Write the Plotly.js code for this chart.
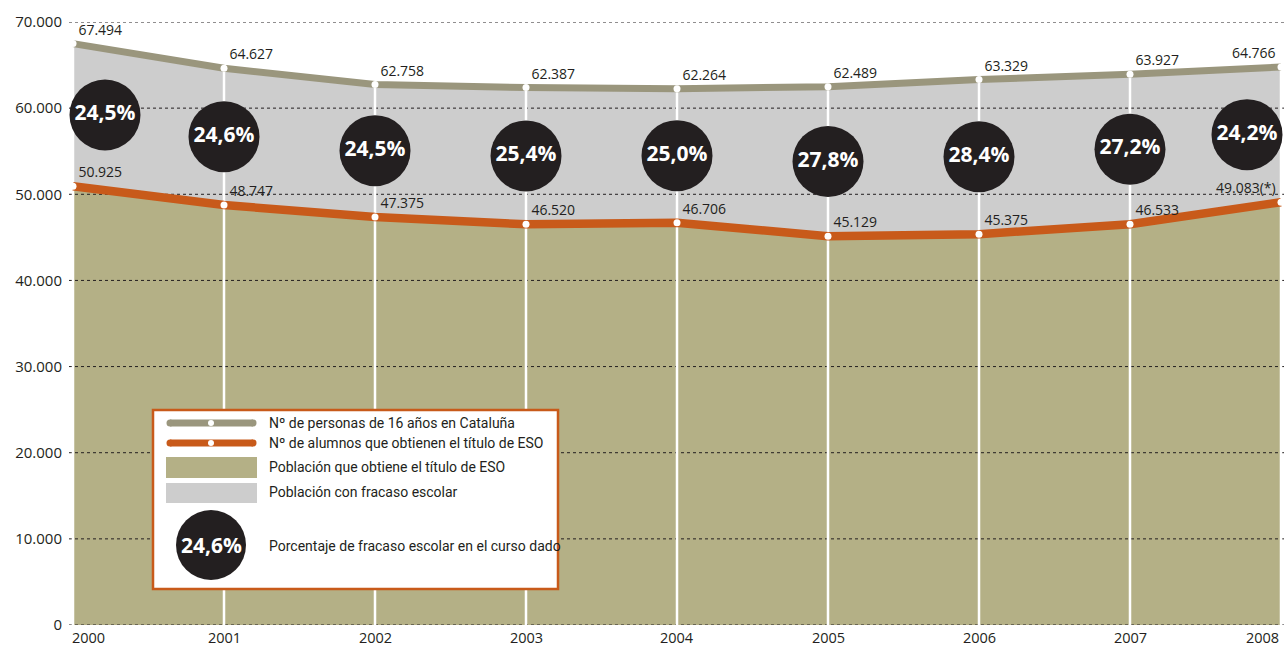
<!DOCTYPE html>
<html>
<head>
<meta charset="utf-8">
<script src="https://cdn.plot.ly/plotly-3.0.1.min.js"></script>
<style>html,body{margin:0;padding:0;background:#fff;}#chart{width:1284px;height:646px;}</style>
</head>
<body>
<div id="chart"></div>
<script>
// ---- data ----
const years = [2000, 2001, 2002, 2003, 2004, 2005, 2006, 2007, 2008];
const population16 = [67494, 64627, 62758, 62387, 62264, 62489, 63329, 63927, 64766];
const esoGraduates = [50925, 48747, 47375, 46520, 46706, 45129, 45375, 46533, 49083];
const esoNotes = ['', '', '', '', '', '', '', '', '(*)'];
const failureRate = [24.5, 24.6, 24.5, 25.4, 25.0, 27.8, 28.4, 27.2, 24.2];
const yTicks = [0, 10000, 20000, 30000, 40000, 50000, 60000, 70000];
const legendLabels = [
  'Nº de personas de 16 años en Cataluña',
  'Nº de alumnos que obtienen el título de ESO',
  'Población que obtiene el título de ESO',
  'Población con fracaso escolar',
  'Porcentaje de fracaso escolar en el curso dado'
];
const legendSampleRate = 24.6;

// ---- styles ----
const C_GRAY_LINE = '#9a967d';
const C_ORANGE = '#c85a1a';
const C_OLIVE = '#b4b086';
const C_GRAYFILL = '#cdcdcd';
const C_DARK = '#231f20';
const FONT = 'Open Sans, Noto Sans, sans-serif';
const LEGFONT = 'Roboto, Noto Sans, sans-serif';

const W = 1284, H = 646;
const M = {l: 69, r: 0, t: 22, b: 21};
const PW = W - M.l - M.r, PH = H - M.t - M.b;
const step = (1281 - 73) / 8;
const xRange = [years[0] - 4 / step, years[years.length - 1] + 3 / step];

function fmt(n) {
  return String(n).replace(/\B(?=(\d{3})+(?!\d))/g, '.');
}
function pct(v) { return v.toFixed(1).replace('.', ',') + '%'; }
const PX = x => (x - M.l) / PW;
const PY = y => (H - M.b - y) / PH;

const last = years.length - 1;

// fills
const traces = [];
traces.push({x: years, y: esoGraduates, type: 'scatter', mode: 'lines', fill: 'tozeroy',
  fillcolor: C_OLIVE, line: {width: 0, color: C_OLIVE}, hoverinfo: 'skip'});
traces.push({x: years, y: population16, type: 'scatter', mode: 'lines', fill: 'tonexty',
  fillcolor: C_GRAYFILL, line: {width: 0, color: C_GRAYFILL}, hoverinfo: 'skip'});

// dotted gridlines
const gx = [], gy = [];
yTicks.forEach(t => { gx.push(xRange[0], xRange[1], null); gy.push(t, t, null); });
traces.push({x: gx, y: gy, type: 'scatter', mode: 'lines', cliponaxis: false,
  line: {width: 1, color: C_DARK, dash: 'dot'}, hoverinfo: 'skip'});

// white vertical lines
const vx = [], vy = [];
years.forEach((yr, i) => { vx.push(yr, yr, null); vy.push(0, population16[i], null); });
traces.push({x: vx, y: vy, type: 'scatter', mode: 'lines', cliponaxis: false,
  line: {width: 2.5, color: '#ffffff'}, hoverinfo: 'skip'});

// lines with labels
const posArr = years.map((_, i) => i === last ? 'top left' : 'top right');
traces.push({x: years, y: population16, type: 'scatter', mode: 'lines+markers+text', cliponaxis: false,
  line: {width: 7, color: C_GRAY_LINE}, marker: {size: 7, color: '#ffffff'},
  text: population16.map(fmt), textposition: posArr,
  textfont: {family: FONT, size: 14, color: C_DARK}, hoverinfo: 'skip'});
traces.push({x: years, y: esoGraduates, type: 'scatter', mode: 'lines+markers+text', cliponaxis: false,
  line: {width: 8.5, color: C_ORANGE}, marker: {size: 7, color: '#ffffff'},
  text: esoGraduates.map((v, i) => fmt(v) + esoNotes[i]), textposition: posArr,
  textfont: {family: FONT, size: 14, color: C_DARK}, hoverinfo: 'skip'});

// bubbles
const bx = years.map((yr, i) => i === 0 ? yr + 32 / step : (i === last ? yr - 34 / step : yr));
const by = years.map((_, i) => (population16[i] + esoGraduates[i]) / 2);
traces.push({x: bx, y: by, type: 'scatter', mode: 'markers+text', cliponaxis: false,
  marker: {size: 71, color: C_DARK, line: {width: 0}},
  text: failureRate.map(pct), textposition: 'middle center',
  textfont: {family: FONT, size: 21, color: '#ffffff', weight: 700}, hoverinfo: 'skip'});

// ---- legend (manual) ----
const shapes = [];
const annotations = [];
shapes.push({type: 'rect', xref: 'paper', yref: 'paper', layer: 'above',
  x0: PX(153), x1: PX(558), y0: PY(589), y1: PY(410),
  fillcolor: '#ffffff', line: {color: C_ORANGE, width: 2.5}});
function lineSample(yc, color) {
  shapes.push({type: 'rect', xref: 'paper', yref: 'paper', layer: 'above',
    x0: PX(170), x1: PX(253), y0: PY(yc + 3.5), y1: PY(yc - 3.5), fillcolor: color, line: {width: 0}});
  [170, 253].forEach(cx => shapes.push({type: 'circle', xref: 'paper', yref: 'paper', layer: 'above',
    x0: PX(cx - 3.5), x1: PX(cx + 3.5), y0: PY(yc + 3.5), y1: PY(yc - 3.5), fillcolor: color, line: {width: 0}}));
  shapes.push({type: 'circle', xref: 'paper', yref: 'paper', layer: 'above',
    x0: PX(208), x1: PX(214), y0: PY(yc + 3), y1: PY(yc - 3), fillcolor: '#ffffff', line: {width: 0}});
}
lineSample(423, C_GRAY_LINE);
lineSample(443, C_ORANGE);
shapes.push({type: 'rect', xref: 'paper', yref: 'paper', layer: 'above',
  x0: PX(166), x1: PX(257), y0: PY(478), y1: PY(457), fillcolor: C_OLIVE, line: {width: 0}});
shapes.push({type: 'rect', xref: 'paper', yref: 'paper', layer: 'above',
  x0: PX(166), x1: PX(257), y0: PY(503), y1: PY(483), fillcolor: C_GRAYFILL, line: {width: 0}});
shapes.push({type: 'circle', xref: 'paper', yref: 'paper', layer: 'above',
  x0: PX(176), x1: PX(246), y0: PY(580), y1: PY(510), fillcolor: C_DARK, line: {width: 0}});
annotations.push({xref: 'paper', yref: 'paper', x: PX(211), y: PY(545), text: pct(legendSampleRate),
  showarrow: false, xanchor: 'center', yanchor: 'middle',
  font: {family: FONT, size: 21, color: '#ffffff', weight: 700}});
const legY = [423, 443, 467, 492, 546];
legendLabels.forEach((t, i) => annotations.push({xref: 'paper', yref: 'paper', x: PX(267), y: PY(legY[i]),
  text: t, showarrow: false, xanchor: 'left', yanchor: 'middle',
  font: {family: LEGFONT, size: 14, color: C_DARK}}));

// x tick labels
years.forEach((yr, i) => annotations.push({xref: 'x', yref: 'paper', x: yr, y: 0, yanchor: 'top', yshift: -1,
  xanchor: i === 0 ? 'left' : (i === last ? 'right' : 'center'), xshift: i === 0 ? -3 : 0,
  text: String(yr), showarrow: false, font: {family: FONT, size: 14.5, color: C_DARK}}));

const layout = {
  width: W, height: H,
  margin: M,
  paper_bgcolor: '#ffffff', plot_bgcolor: '#ffffff',
  showlegend: false, hovermode: false,
  separators: ',.',
  xaxis: {range: xRange, showgrid: false, zeroline: false, showline: false, showticklabels: false, ticks: '', fixedrange: true},
  yaxis: {range: [0, 70000], tickvals: yTicks, tickformat: ',d', showgrid: false, zeroline: false, showline: false,
    ticks: '', ticklabelstandoff: 6, tickfont: {family: FONT, size: 15, color: C_DARK}, fixedrange: true},
  shapes: shapes,
  annotations: annotations
};

Plotly.newPlot('chart', traces, layout, {displayModeBar: false, staticPlot: true});
</script>
</body>
</html>
